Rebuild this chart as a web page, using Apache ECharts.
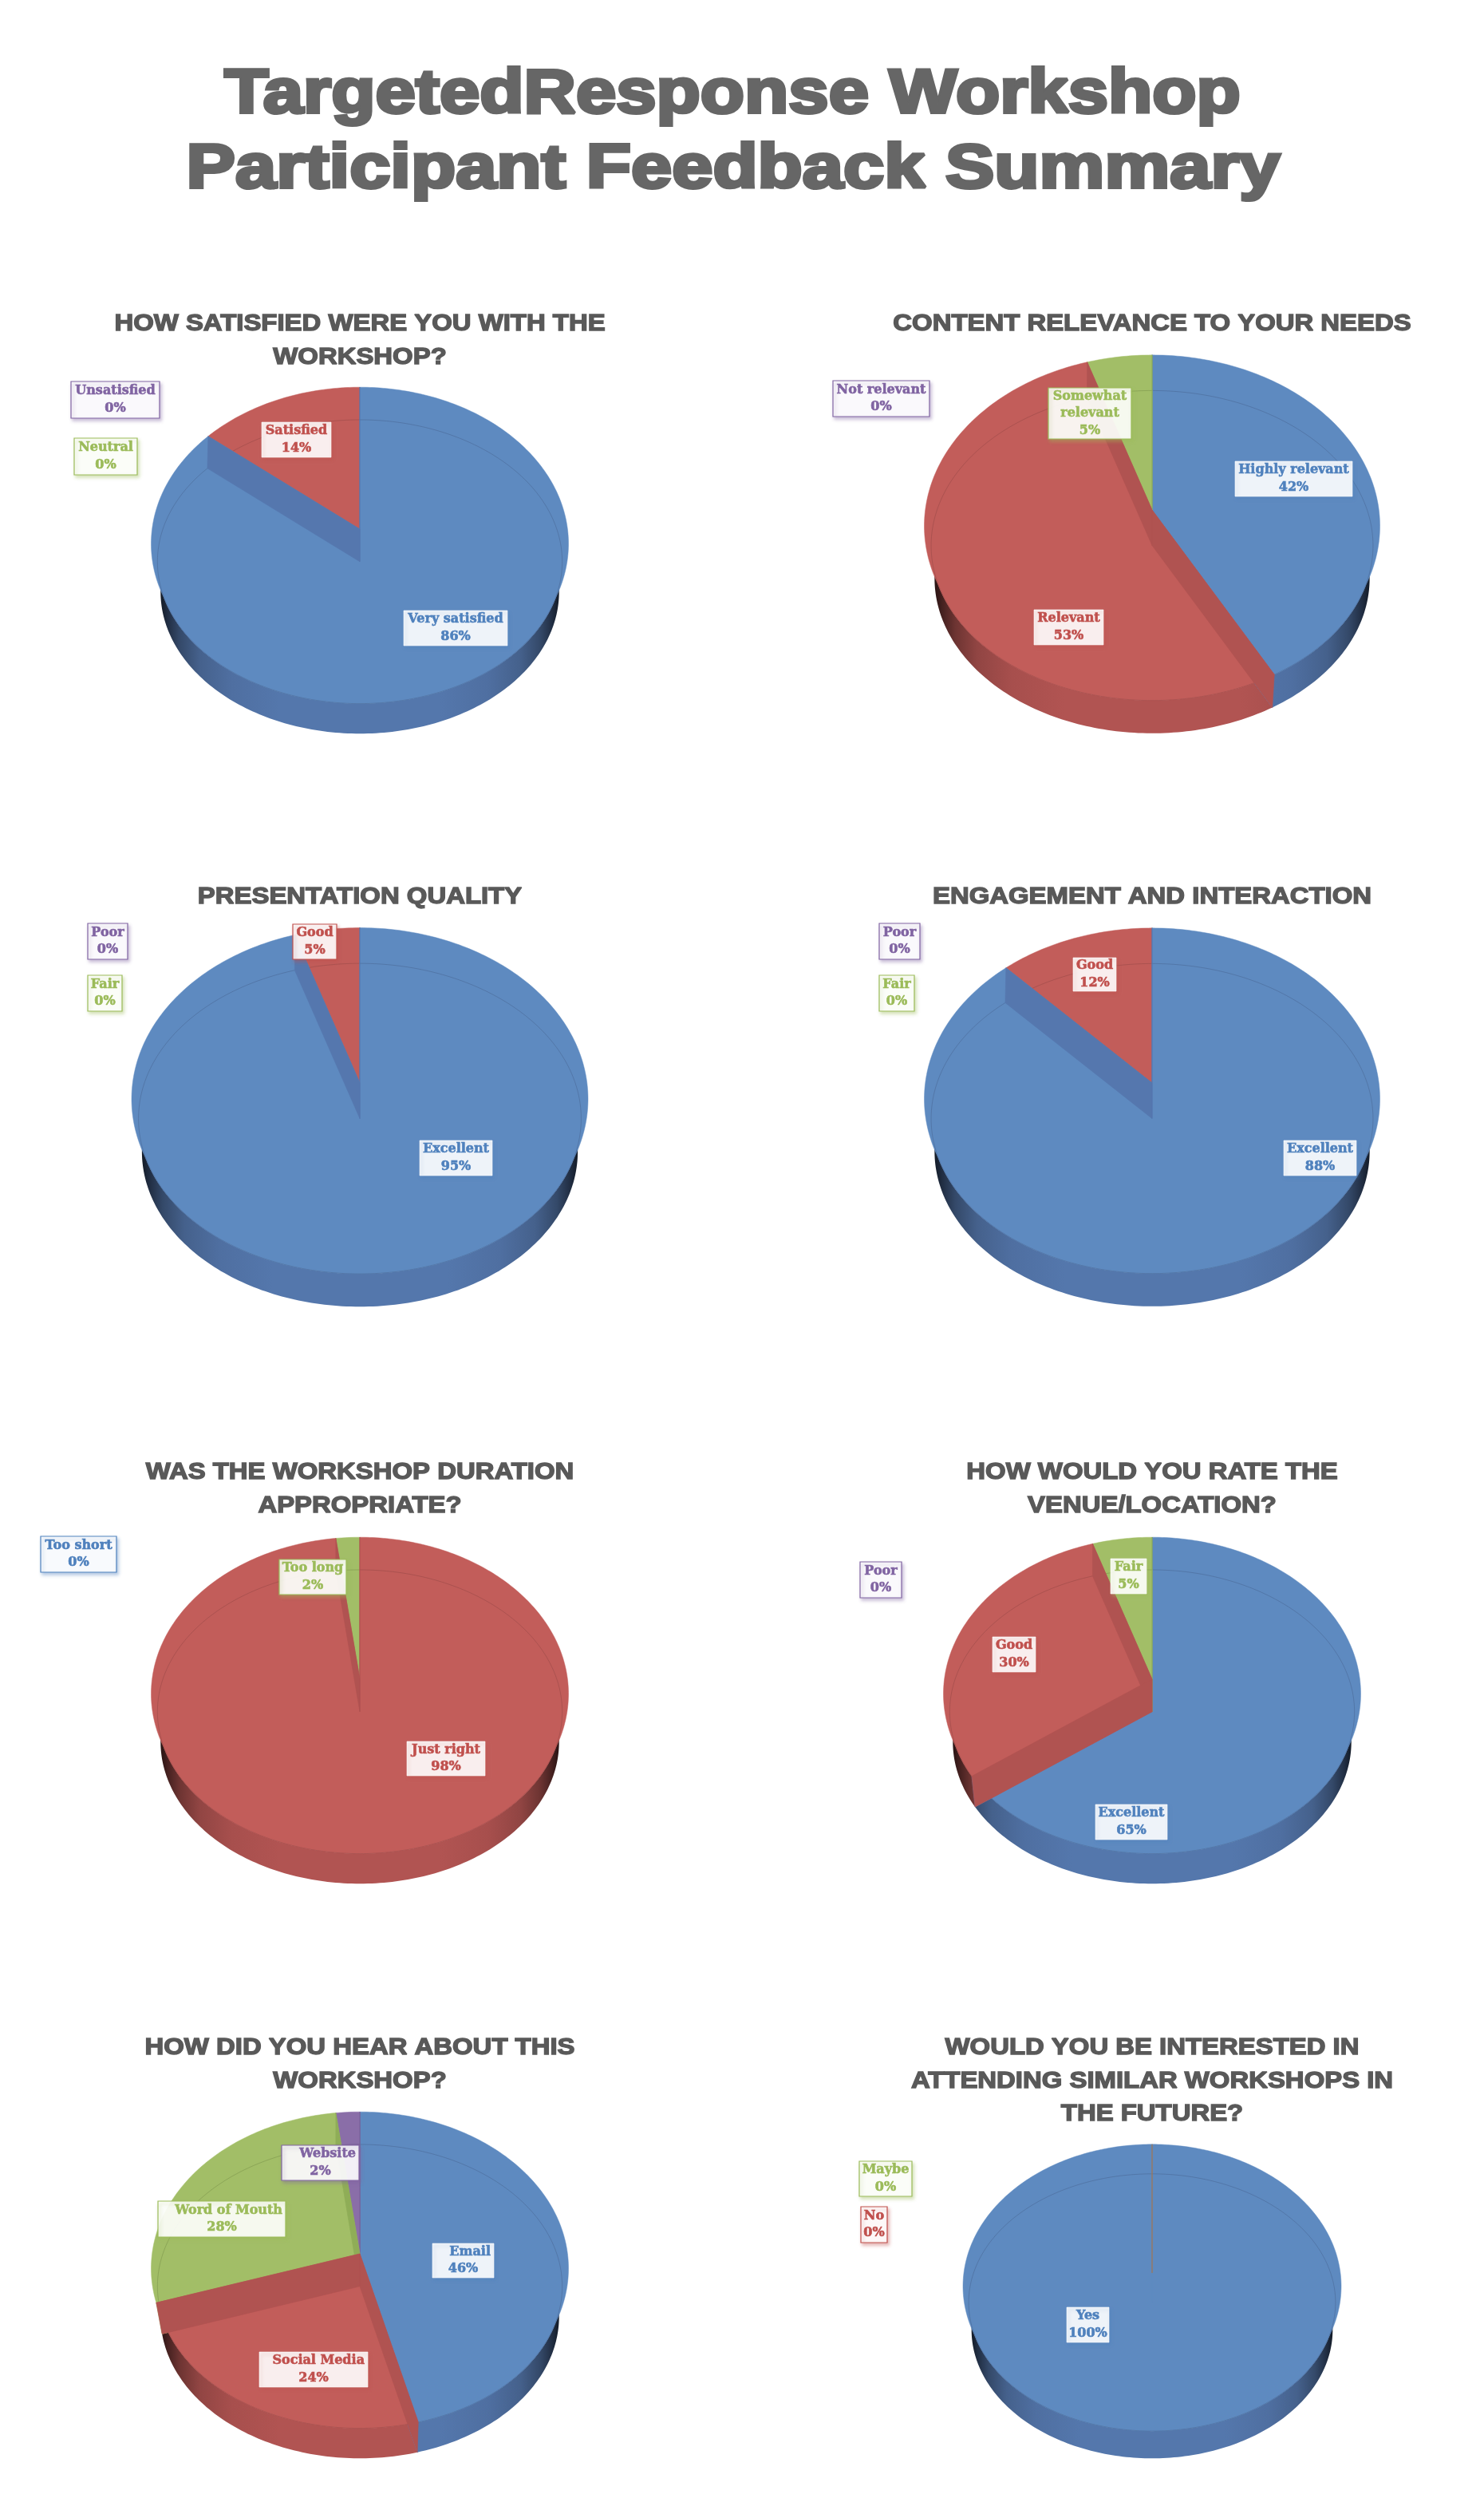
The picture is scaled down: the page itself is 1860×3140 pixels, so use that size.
<!DOCTYPE html>
<html>
<head>
<meta charset="utf-8">
<title>TargetedResponse Workshop Participant Feedback Summary</title>
<script src="https://cdn.jsdelivr.net/npm/echarts@6/dist/echarts.min.js"></script>
<style>
  html, body { margin: 0; padding: 0; background: #fff; }
  #main { width: 1860px; height: 3140px; }
</style>
</head>
<body>
<div id="main"></div>
<script>
// survey answers
const satisfactionNames = ['Very satisfied', 'Satisfied', 'Neutral', 'Unsatisfied'];
const satisfactionValues = [86, 14, 0, 0];
const relevanceNames = ['Highly relevant', 'Relevant', 'Somewhat\nrelevant', 'Not relevant'];
const relevanceValues = [42, 53, 5, 0];
const presentationNames = ['Excellent', 'Good', 'Fair', 'Poor'];
const presentationValues = [95, 5, 0, 0];
const engagementNames = ['Excellent', 'Good', 'Fair', 'Poor'];
const engagementValues = [88, 12, 0, 0];
const durationNames = ['Too short', 'Just right', 'Too long'];
const durationValues = [0, 98, 2];
const venueNames = ['Excellent', 'Good', 'Fair', 'Poor'];
const venueValues = [65, 30, 5, 0];
const sourceNames = ['Email', 'Social Media', 'Word of Mouth', 'Website'];
const sourceValues = [46, 24, 28, 2];
const interestNames = ['Yes', 'No', 'Maybe'];
const interestValues = [100, 0, 0];

const mainTitleLines = ['TargetedResponse Workshop', 'Participant Feedback Summary'];
const pieTitles = [
  ['HOW SATISFIED WERE YOU WITH THE', 'WORKSHOP?'],
  ['CONTENT RELEVANCE TO YOUR NEEDS'],
  ['PRESENTATION QUALITY'],
  ['ENGAGEMENT AND INTERACTION'],
  ['WAS THE WORKSHOP DURATION', 'APPROPRIATE?'],
  ['HOW WOULD YOU RATE THE', 'VENUE/LOCATION?'],
  ['HOW DID YOU HEAR ABOUT THIS', 'WORKSHOP?'],
  ['WOULD YOU BE INTERESTED IN', 'ATTENDING SIMILAR WORKSHOPS IN', 'THE FUTURE?']
];

// Office colours: face of the slice, wall of the cut, text of the label
const faceColors = ['#5e8ac0', '#c25d5a', '#a2be67', '#8a6ea8'];
const wallColors = ['#5577ae', '#b05351', '#8fad57', '#7a5f98'];
const sideColors = [[86, 121, 175], [181, 86, 84], [143, 173, 87], [122, 95, 152]];
const textColors = ['#4f81bd', '#c0504d', '#9bbb59', '#8064a2'];

// x centre, y of the top apex, radius, title baseline y, and the paint order of the slices
const pieLayout = [
  { cx: 451, cy: 663, r: 261.5, titleY: [415, 457], order: [3, 2, 1, 0] },
  { cx: 1444, cy: 639, r: 285.5, titleY: [415], order: [3, 0, 2, 1] },
  { cx: 451, cy: 1357, r: 286, titleY: [1133], order: [3, 2, 1, 0] },
  { cx: 1444, cy: 1357, r: 285.5, titleY: [1133], order: [3, 2, 1, 0] },
  { cx: 451, cy: 2104, r: 261.5, titleY: [1854, 1896], order: [0, 2, 1] },
  { cx: 1444, cy: 2104, r: 261.5, titleY: [1854, 1896], order: [3, 0, 2, 1] },
  { cx: 451, cy: 2824, r: 261.5, titleY: [2575, 2617], order: [0, 3, 2, 1] },
  { cx: 1444, cy: 2848, r: 237, titleY: [2575, 2617, 2658], order: [0, 2, 1] }
];

// label boxes per pie, in category order: x0, x1, y0, y1, coloured border
const labelBoxes = [
  [[506, 636, 765, 809, 0], [328, 415, 529, 573, 0], [93, 172, 549, 595, 1], [89, 200, 478, 524, 1]],
  [[1548, 1695, 578, 622, 0], [1296, 1383, 764, 808, 0], [1314, 1418, 486, 550, 1], [1044, 1165, 477, 522, 1]],
  [[526, 617, 1429, 1473, 0], [367, 422, 1158, 1202, 1], [110, 153, 1222, 1267, 1], [110, 160, 1157, 1202, 1]],
  [[1609, 1700, 1429, 1473, 0], [1345, 1399, 1200, 1242, 0], [1102, 1146, 1222, 1267, 1], [1102, 1153, 1157, 1202, 1]],
  [[51, 146, 1925, 1970, 1], [510, 608, 2182, 2225, 0], [350, 434, 1954, 1998, 1]],
  [[1373, 1463, 2261, 2305, 0], [1244, 1298, 2051, 2095, 0], [1392, 1437, 1953, 1997, 0], [1078, 1130, 1957, 2002, 1]],
  [[542, 619, 2811, 2854, 0], [325, 461, 2947, 2991, 0], [198, 358, 2758, 2803, 1], [353, 450, 2688, 2732, 1]],
  [[1337, 1390, 2891, 2935, 0], [1079, 1112, 2765, 2810, 1], [1077, 1143, 2708, 2752, 1]]
];
// the source pie pushes its name line to the right of the box
const rightAlignedNames = [false, false, false, false, false, false, true, false];

const pieNames = [satisfactionNames, relevanceNames, presentationNames, engagementNames, durationNames, venueNames, sourceNames, interestNames];
const pieValues = [satisfactionValues, relevanceValues, presentationValues, engagementValues, durationValues, venueValues, sourceValues, interestValues];

const FLATTEN = 0.68;      // ry / rx of the face
const RAY_FLATTEN = 0.74;  // the slice edges run a little steeper than the face ellipse
const MID_DROP = 0.156;    // drop of the face below the top apex, in radii
const BOTTOM_DROP = 0.30;  // drop of the bottom disc, in radii

function discs(p) {
  return {
    apexTop: { x: p.cx, y: p.cy },
    apexMid: { x: p.cx, y: p.cy + p.r * MID_DROP },
    // the top plate is a bit rounder than the face, its widest point sits under the apex
    top: { x: p.cx, y: p.cy + p.r * 0.07, rx: p.r, ry: p.r * 0.75 },
    mid: { x: p.cx, y: p.cy + p.r * MID_DROP, rx: p.r * 0.97, ry: p.r * FLATTEN },
    bot: { x: p.cx, y: p.cy + p.r * BOTTOM_DROP, rx: p.r * 0.955, ry: p.r * FLATTEN }
  };
}

// where a ray leaves the union of some ellipses
function rayExit(from, angle, ellipses) {
  const dx = Math.sin(angle), dy = -Math.cos(angle) * RAY_FLATTEN;
  let best = 0;
  ellipses.forEach(function (e) {
    const ox = (from.x - e.x) / e.rx, oy = (from.y - e.y) / e.ry;
    const ux = dx / e.rx, uy = dy / e.ry;
    const a = ux * ux + uy * uy, b = 2 * (ox * ux + oy * uy), c = ox * ox + oy * oy - 1;
    const d = b * b - 4 * a * c;
    if (d >= 0) best = Math.max(best, (-b + Math.sqrt(d)) / (2 * a));
  });
  return [from.x + dx * best, from.y + dy * best];
}

function sweepPoints(from, a0, a1, ellipses) {
  const pts = [];
  const steps = Math.max(2, Math.ceil((a1 - a0) / (Math.PI / 180)));
  for (let i = 0; i <= steps; i++) {
    pts.push(rayExit(from, a0 + (a1 - a0) * i / steps, ellipses));
  }
  return pts;
}

function wedge(from, a0, a1, ellipses) {
  return [[from.x, from.y]].concat(sweepPoints(from, a0, a1, ellipses));
}

function sliceAngles(values) {
  const total = values.reduce(function (s, v) { return s + v; }, 0);
  let run = 0;
  return values.map(function (v) {
    const a0 = run / total * Math.PI * 2;
    run += v;
    return [a0, run / total * Math.PI * 2];
  });
}

function shade(rgb, f) {
  return 'rgb(' + rgb.map(function (c) { return Math.round(c * f); }).join(',') + ')';
}

// outer wall under the face, lower half only
function renderSide(p, angles, colorIndex, value) {
  const d = discs(p);
  const a0 = Math.max(angles[0], Math.PI / 2);
  const a1 = Math.min(angles[1], Math.PI * 1.5);
  if (value === 0 || a1 <= a0) return { type: 'group', children: [] };
  const rgb = sideColors[colorIndex];
  const edge = p.r * 0.96;
  const grad = new echarts.graphic.LinearGradient(p.cx - edge, 0, p.cx + edge, 0, [
    { offset: 0, color: shade(rgb, 0.2) },
    { offset: 0.02, color: shade(rgb, 0.38) },
    { offset: 0.05, color: shade(rgb, 0.6) },
    { offset: 0.1, color: shade(rgb, 0.8) },
    { offset: 0.18, color: shade(rgb, 0.92) },
    { offset: 0.3, color: shade(rgb, 0.98) },
    { offset: 0.7, color: shade(rgb, 0.98) },
    { offset: 0.82, color: shade(rgb, 0.92) },
    { offset: 0.9, color: shade(rgb, 0.8) },
    { offset: 0.95, color: shade(rgb, 0.6) },
    { offset: 0.98, color: shade(rgb, 0.38) },
    { offset: 1, color: shade(rgb, 0.2) }
  ], true);
  // the ends of a side piece follow the same rays as the cut walls
  const points = sweepPoints(d.apexMid, a0, a1, [d.mid]).concat(sweepPoints(d.apexMid, a0, a1, [d.bot]).reverse());
  return { type: 'polygon', shape: { points: points }, style: { fill: grad } };
}

function wallQuad(d, angle, colorIndex) {
  return {
    type: 'polygon',
    shape: { points: [
      [d.apexTop.x, d.apexTop.y],
      rayExit(d.apexTop, angle, [d.top, d.mid]),
      rayExit(d.apexMid, angle, [d.mid, d.bot]),
      [d.apexMid.x, d.apexMid.y]
    ] },
    style: { fill: wallColors[colorIndex], stroke: wallColors[colorIndex], lineWidth: 0.6 }
  };
}

// face of a slice, its rim line and the two cut walls
function renderSlice(p, angles, colorIndex, value) {
  const d = discs(p);
  const a0 = angles[0], a1 = angles[1];
  if (value === 0) {
    // an empty slice is only a hairline
    return {
      type: 'polyline',
      shape: { points: [[d.apexTop.x, d.apexTop.y], rayExit(d.apexTop, a0, [d.top, d.mid])] },
      style: { stroke: wallColors[colorIndex], lineWidth: 1, opacity: 0.75, fill: null }
    };
  }
  const face = faceColors[colorIndex];
  const children = [
    { type: 'polygon', shape: { points: wedge(d.apexTop, a0, a1, [d.top, d.mid]) }, style: { fill: face, stroke: face, lineWidth: 0.5 } },
    { type: 'polygon', shape: { points: wedge(d.apexMid, a0, a1, [d.mid]) }, style: { fill: face, stroke: face, lineWidth: 0.5 } },
    { type: 'polyline', shape: { points: sweepPoints(d.apexMid, a0, a1, [d.mid]) }, style: { stroke: shade(sideColors[colorIndex], 0.82), lineWidth: 1, opacity: 0.5, fill: null } }
  ];
  if (a1 - a0 < Math.PI * 2 - 0.001) {
    children.push(wallQuad(d, a1, colorIndex));
    children.push(wallQuad(d, a0, colorIndex));
  }
  return { type: 'group', children: children };
}

function renderLabel(pieIndex, i, name, value) {
  const box = labelBoxes[pieIndex][i];
  const color = textColors[i];
  const midX = (box[0] + box[1]) / 2;
  const children = [{
    type: 'rect',
    shape: { x: box[0], y: box[2], width: box[1] - box[0], height: box[3] - box[2] },
    style: {
      fill: 'rgba(255,255,255,0.9)',
      stroke: box[4] ? color : 'rgba(255,255,255,0.6)',
      lineWidth: box[4] ? 1.2 : 1,
      shadowColor: echarts.color.modifyAlpha(color, 0.45),
      shadowBlur: 4,
      shadowOffsetX: 2,
      shadowOffsetY: 3
    }
  }];
  const lines = name.split('\n').concat(value + '%');
  const lineHeight = 21.5;
  const firstY = (box[2] + box[3]) / 2 - (lines.length - 1) * lineHeight / 2;
  lines.forEach(function (line, n) {
    const pushRight = rightAlignedNames[pieIndex] && n === 0;
    children.push({
      type: 'text',
      x: pushRight ? box[1] - 4 : midX,
      y: firstY + n * lineHeight,
      style: {
        text: line,
        fill: color,
        font: 'bold 16px "DejaVu Serif"',
        textAlign: pushRight ? 'right' : 'center',
        textVerticalAlign: 'middle',
        stroke: color,
        lineWidth: 0.6
      }
    });
  });
  return { type: 'group', children: children };
}

const series = [];
pieLayout.forEach(function (p, k) {
  const values = pieValues[k];
  const names = pieNames[k];
  const angles = sliceAngles(values);
  const ordered = p.order.map(function (i) { return { name: names[i], value: values[i], idx: i }; });

  series.push({
    type: 'custom', name: 'side ' + k, coordinateSystem: 'none', silent: true, z: 2,
    data: values.map(function (v, i) { return { name: names[i], value: v }; }),
    renderItem: function (params) {
      const i = params.dataIndex;
      return renderSide(p, angles[i], i, values[i]);
    }
  });
  series.push({
    type: 'custom', name: 'slices ' + k, coordinateSystem: 'none', silent: true, z: 3,
    data: ordered,
    renderItem: function (params) {
      const i = ordered[params.dataIndex].idx;
      return renderSlice(p, angles[i], i, values[i]);
    }
  });
  series.push({
    type: 'custom', name: 'labels ' + k, coordinateSystem: 'none', silent: true, z: 4,
    data: values.map(function (v, i) { return { name: names[i], value: v }; }),
    renderItem: function (params) {
      const i = params.dataIndex;
      return renderLabel(k, i, names[i], values[i]);
    }
  });
});

// headings, stretched sideways like the original
const headings = [];
function addHeading(text, x, y, size, scaleX, color, lineWidth) {
  headings.push({
    type: 'text',
    x: x,
    y: y,
    scaleX: scaleX,
    z: 5,
    style: {
      text: text,
      font: 'bold ' + size + 'px "Liberation Sans"',
      fill: color,
      stroke: color,
      lineWidth: lineWidth,
      textAlign: 'center',
      textVerticalAlign: 'bottom'
    }
  });
}
addHeading(mainTitleLines[0], 918, 158, 78, 1.16, '#666666', 4);
addHeading(mainTitleLines[1], 919, 252, 78, 1.18, '#666666', 4);
pieTitles.forEach(function (lines, k) {
  lines.forEach(function (line, n) {
    addHeading(line, pieLayout[k].cx, pieLayout[k].titleY[n] + 6, 29.5, 1.115, '#595959', 1.4);
  });
});

const chart = echarts.init(document.getElementById('main'));
chart.setOption({
  backgroundColor: '#ffffff',
  animation: false,
  graphic: { elements: headings },
  series: series
});
</script>
</body>
</html>
